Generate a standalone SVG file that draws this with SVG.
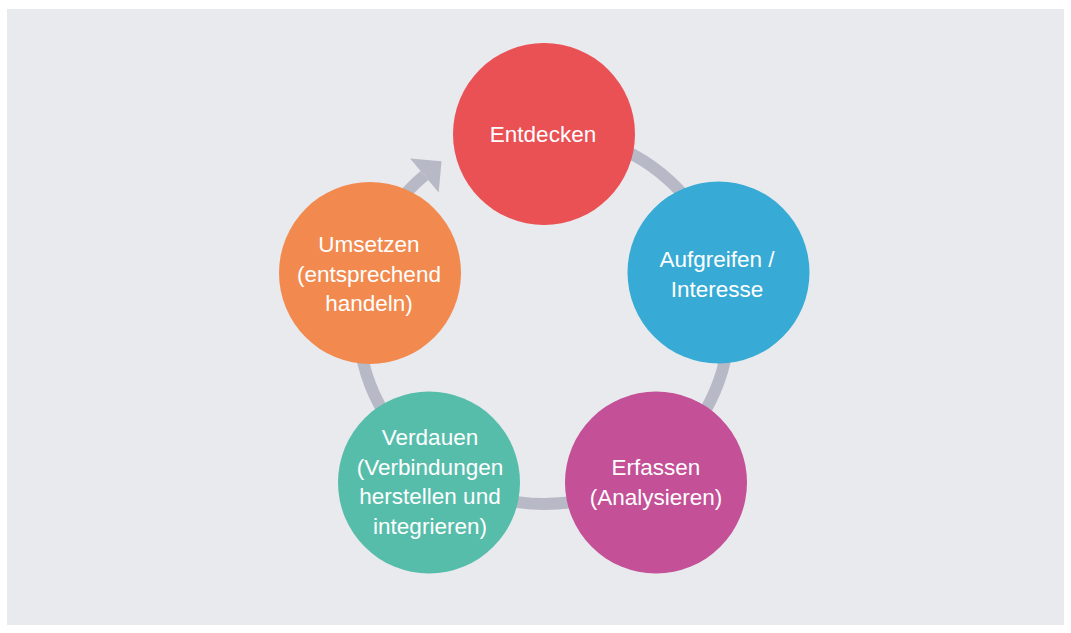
<svg xmlns="http://www.w3.org/2000/svg" width="1071" height="633" viewBox="0 0 1071 633">
  <style>
    .node-label { font-family: "Liberation Sans", Arial, sans-serif; font-size: 22.5px; fill: #ffffff; text-anchor: middle; }
    .ring { fill: none; stroke: #b7b9c6; stroke-width: 12; }
  </style>
  <rect x="0" y="0" width="1071" height="633" fill="#ffffff"/>
  <rect x="7" y="9" width="1057" height="616" fill="#e9eaee"/>
  <g id="connectors">
    <path class="ring" d="M 544 132 A 186 186 0 1 1 424.4 175.5"/>
    <polygon points="410.1,158.4 441.5,161.2 438.7,192.6" fill="#b7b9c6"/>
  </g>
  <g id="node-entdecken">
    <circle cx="544" cy="134" r="91" fill="#e95155"/>
    <text class="node-label" x="543" y="142">Entdecken</text>
  </g>
  <g id="node-aufgreifen">
    <circle cx="718.5" cy="272.5" r="91" fill="#37abd5"/>
    <text class="node-label" x="717" y="267">Aufgreifen /</text>
    <text class="node-label" x="717" y="297">Interesse</text>
  </g>
  <g id="node-erfassen">
    <circle cx="656" cy="482.5" r="91" fill="#c45097"/>
    <text class="node-label" x="656" y="475">Erfassen</text>
    <text class="node-label" x="656" y="505">(Analysieren)</text>
  </g>
  <g id="node-verdauen">
    <circle cx="429" cy="482.5" r="91" fill="#57bdab"/>
    <text class="node-label" x="430" y="445">Verdauen</text>
    <text class="node-label" x="430" y="474.5">(Verbindungen</text>
    <text class="node-label" x="430" y="504">herstellen und</text>
    <text class="node-label" x="430" y="533.5">integrieren)</text>
  </g>
  <g id="node-umsetzen">
    <circle cx="370" cy="273" r="91" fill="#f28a4f"/>
    <text class="node-label" x="369" y="252">Umsetzen</text>
    <text class="node-label" x="369" y="281.5">(entsprechend</text>
    <text class="node-label" x="369" y="311">handeln)</text>
  </g>
</svg>
